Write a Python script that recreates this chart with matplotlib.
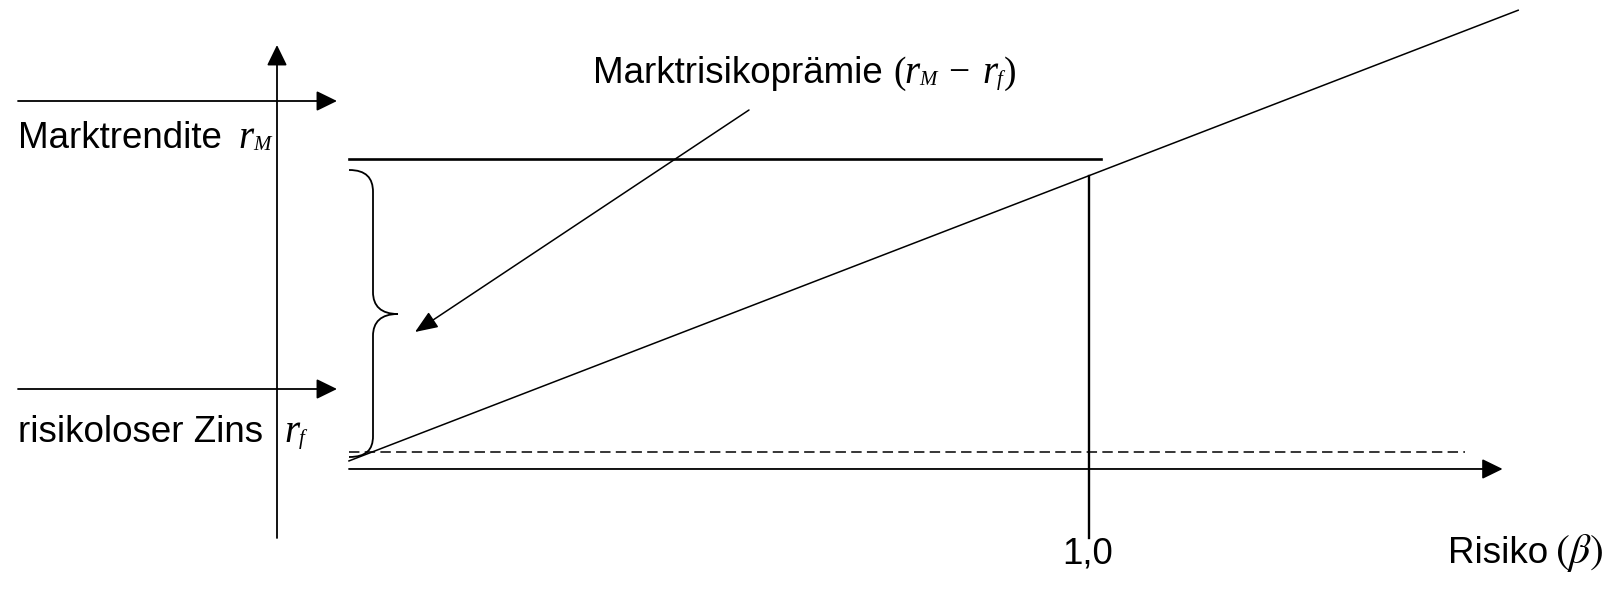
import matplotlib
matplotlib.use("Agg")
import matplotlib.pyplot as plt
import matplotlib.transforms as mtransforms
from matplotlib.path import Path
from matplotlib.patches import PathPatch

# values (risk as beta, return in %)
beta_market = 1.0
r_f = 0.55
r_M = 10.0
sml_beta = [0.0, 1.58]
sml_return = [0.26, 14.8]

# labels
label_rm = "Marktrendite"
label_rf = "risikoloser Zins"
label_premium = "Marktrisikoprämie"
label_beta_tick = "1,0"
label_risk = "Risiko"

W, H = 1614, 597
plt.rcParams["font.family"] = ["Liberation Sans", "DejaVu Sans"]
plt.rcParams["mathtext.fontset"] = "stix"
plt.rcParams["lines.scale_dashes"] = False

fig = plt.figure(figsize=(W / 100, H / 100), dpi=100)
ax = fig.add_axes([0, 0, 1, 1])
ax.set_xlim(-0.4716, 1.7095)
ax.set_ylim(-4.13, 15.13)
ax.axis("off")

# pixel coordinates (origin top-left) for the layout pieces
px = mtransforms.Affine2D().scale(1 / W, -1 / H).translate(0, 1) + fig.transFigure

fs = 26.5
arrow = dict(arrowstyle="-|>,head_length=0.45,head_width=0.22", color="black",
             lw=1.3, mutation_scale=28, shrinkA=0, shrinkB=0)

# beta axis (return = 0) with arrow
ax.annotate("", xy=(1.559, 0), xytext=(0, 0), arrowprops=arrow)

# market return line
ax.plot([0, 1.016], [r_M, r_M], color="black", lw=1.9)
# risk-free dashed line
ax.plot([0, 1.508], [r_f, r_f], color="black", lw=1.1, dashes=(7.5, 3.8))
# security market line
ax.plot(sml_beta, sml_return, color="black", lw=1.1)
# beta = 1 marker
sml_at_1 = sml_return[0] + (sml_return[1] - sml_return[0]) * beta_market / sml_beta[1]
ax.plot([beta_market, beta_market], [-2.23, sml_at_1], color="black", lw=1.7)

# vertical return axis and left arrows (layout, pixel coords)
ax.annotate("", xy=(277, 45), xytext=(277, 538), xycoords=px, textcoords=px,
            arrowprops=arrow)
ax.annotate("", xy=(337, 101), xytext=(18, 101), xycoords=px, textcoords=px,
            arrowprops=arrow)
ax.annotate("", xy=(337, 389), xytext=(18, 389), xycoords=px, textcoords=px,
            arrowprops=arrow)

# pointer to the brace
ax.annotate("", xy=(415, 332), xytext=(749, 110), xycoords=px, textcoords=px,
            arrowprops=dict(arrowstyle="-|>,head_length=0.5,head_width=0.2",
                            color="black", lw=1.1, mutation_scale=28,
                            shrinkA=0, shrinkB=0))

# curly brace
verts = [(349, 170),
         (366, 170), (373, 178), (373, 192),
         (373, 292),
         (373, 306), (381, 314), (398, 314),
         (381, 314), (373, 322), (373, 336),
         (373, 436),
         (373, 450), (366, 457), (349, 457)]
codes = ([Path.MOVETO] + [Path.CURVE4] * 3 + [Path.LINETO] + [Path.CURVE4] * 6
         + [Path.LINETO] + [Path.CURVE4] * 3)
ax.add_patch(PathPatch(Path(verts, codes), transform=px, fill=False,
                       lw=1.3, color="black"))


def symbol(x, y, sub):
    # italic serif r with a small subscript, as in the original
    ax.text(x, y, "r", transform=px, fontsize=28, va="baseline",
            family="Liberation Serif", style="italic")
    ax.text(x + 15, y + 2, sub, transform=px, fontsize=15, va="baseline",
            family="Liberation Serif", style="italic")


def serif(x, y, s):
    ax.text(x, y, s, transform=px, fontsize=27, va="baseline",
            family="Liberation Serif")


# texts
ax.text(18, 148, label_rm, transform=px, fontsize=fs, va="baseline")
symbol(238, 148, "M")
ax.text(18, 442, label_rf, transform=px, fontsize=fs, va="baseline")
symbol(284, 442, "f")
ax.text(593, 83, label_premium, transform=px, fontsize=fs, va="baseline")
serif(893, 83, "(")
symbol(904, 83, "M")
serif(948, 83, "\u2212")
symbol(982, 83, "f")
serif(1004, 83, ")")
ax.text(1088, 563, label_beta_tick, transform=px, fontsize=fs, va="baseline",
        ha="center")
ax.text(1548, 563, label_risk, transform=px, fontsize=fs, va="baseline",
        ha="right")
ax.text(1604, 563, r"$(\beta)$", transform=px, fontsize=30, va="baseline",
        ha="right")

fig.savefig("out.png", dpi=100)
